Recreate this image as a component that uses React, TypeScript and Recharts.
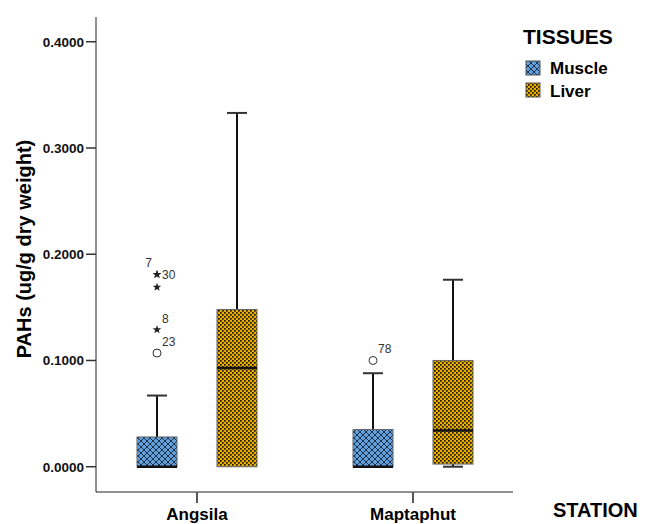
import { ComposedChart, Bar, XAxis, YAxis } from "recharts";

const stations = ["Angsila", "Maptaphut"];

const muscleMin = [0, 0];
const muscleQ1 = [0, 0];
const muscleMedian = [0, 0];
const muscleQ3 = [0.028, 0.035];
const muscleMax = [0.067, 0.088];

const liverMin = [0, 0];
const liverQ1 = [0, 0.0025];
const liverMedian = [0.093, 0.034];
const liverQ3 = [0.148, 0.1];
const liverMax = [0.333, 0.176];

// outliers per station, id = case label shown next to the mark
const muscleOutliers = [
  [
    { value: 0.181, id: "7" },
    { value: 0.181, id: "30" },
    { value: 0.169, id: "" },
    { value: 0.129, id: "8" },
    { value: 0.107, id: "23" },
  ],
  [{ value: 0.1, id: "78" }],
];
const liverOutliers: { value: number; id: string }[][] = [[], []];

const yTicks = [0, 0.1, 0.2, 0.3, 0.4];

const data = stations.map((s, i) => ({
  station: s,
  mBase: muscleQ1[i],
  mBox: muscleQ3[i] - muscleQ1[i],
  lBase: liverQ1[i],
  lBox: liverQ3[i] - liverQ1[i],
}));

const FONT = '"Liberation Sans", Arial, sans-serif';

const labelSpot: Record<string, [number, number, string]> = {
  "7": [-5, -7, "end"],
  "30": [5, 5, "start"],
};

function Star({ cx, cy }: { cx: number; cy: number }) {
  const pts = [];
  for (let k = 0; k < 10; k++) {
    const r = k % 2 === 0 ? 4.5 : 1.9;
    const a = -Math.PI / 2 + (k * Math.PI) / 5;
    pts.push(`${cx + r * Math.cos(a)},${cy + r * Math.sin(a)}`);
  }
  return <polygon points={pts.join(" ")} fill="#222" />;
}

function makeBox(tissue: "muscle" | "liver") {
  return (props: any) => {
    const { x, y, width, height, index } = props;
    const q1 = tissue === "muscle" ? muscleQ1[index] : liverQ1[index];
    const q3 = tissue === "muscle" ? muscleQ3[index] : liverQ3[index];
    const med = tissue === "muscle" ? muscleMedian[index] : liverMedian[index];
    const lo = tissue === "muscle" ? muscleMin[index] : liverMin[index];
    const hi = tissue === "muscle" ? muscleMax[index] : liverMax[index];
    const outs = tissue === "muscle" ? muscleOutliers[index] : liverOutliers[index];
    const ratio = height / (q3 - q1);
    const bottom = y + height;
    const py = (v: number) => bottom - (v - q1) * ratio;
    const cx = x + width / 2;
    const iqr = q3 - q1;
    return (
      <g>
        <line x1={cx} x2={cx} y1={py(q3)} y2={py(hi)} stroke="#111" strokeWidth={2} />
        <line x1={cx - 10} x2={cx + 10} y1={py(hi)} y2={py(hi)} stroke="#333" strokeWidth={2} />
        {lo < q1 && (
          <g>
            <line x1={cx} x2={cx} y1={py(q1)} y2={py(lo)} stroke="#111" strokeWidth={2} />
            <line x1={cx - 10} x2={cx + 10} y1={py(lo)} y2={py(lo)} stroke="#333" strokeWidth={2} />
          </g>
        )}
        <rect
          x={x}
          y={y}
          width={width}
          height={height}
          fill={`url(#pat-${tissue})`}
          stroke="#666"
          strokeWidth={1}
        />
        <line x1={x} x2={x + width} y1={py(med)} y2={py(med)} stroke="#111" strokeWidth={2.5} />
        {outs.map((o, k) => {
          const oy = py(o.value);
          const extreme = o.value > q3 + 3 * iqr;
          const spot = labelSpot[o.id] || [5, -7, "start"];
          return (
            <g key={k}>
              {extreme ? (
                <Star cx={cx} cy={oy} />
              ) : (
                <circle cx={cx} cy={oy} r={4} fill="#fff" stroke="#333" strokeWidth={1} />
              )}
              {o.id && (
                <text
                  x={cx + spot[0]}
                  y={oy + spot[1]}
                  textAnchor={spot[2] as any}
                  fontSize={12}
                  fontFamily={FONT}
                  fill="#333"
                >
                  {o.id}
                </text>
              )}
            </g>
          );
        })}
      </g>
    );
  };
}

function XTick(props: any) {
  const { x, payload } = props;
  return (
    <text x={x} y={520} textAnchor="middle" fontSize={17} fontWeight="bold" fontFamily={FONT} fill="#000">
      {payload.value}
    </text>
  );
}

export default function App() {
  return (
    <div style={{ position: "absolute", left: 0, top: 0, width: 646, height: 524, background: "#fff" }}>
      <ComposedChart
        width={646}
        height={524}
        data={data}
        margin={{ top: 17, right: 133, bottom: 0, left: 0 }}
        barSize={40}
        barGap={40}
      >
        <defs>
          <pattern id="pat-muscle" patternUnits="userSpaceOnUse" width={6} height={6}>
            <rect width={6} height={6} fill="#64a0dc" />
            <path d="M0,0 L6,6 M6,0 L0,6" stroke="#15263b" strokeWidth={0.9} />
          </pattern>
          <pattern id="pat-liver" patternUnits="userSpaceOnUse" width={4} height={4}>
            <rect width={4} height={4} fill="#eaad00" />
            <rect x={0} y={0} width={1.7} height={1.7} fill="#1a1400" />
            <rect x={2} y={2} width={1.7} height={1.7} fill="#1a1400" />
          </pattern>
        </defs>
        <XAxis
          dataKey="station"
          height={32}
          padding={{ left: -7, right: -8 }}
          tickSize={11}
          tick={<XTick />}
          stroke="#222"
          tickLine={{ stroke: "#555", strokeWidth: 2 }}
        />
        <XAxis
          xAxisId="top"
          dataKey="station"
          orientation="top"
          height={0}
          tick={false}
          tickLine={false}
          stroke="#222"
        />
        <YAxis
          type="number"
          domain={[-0.0238, 0.4233]}
          ticks={yTicks}
          allowDataOverflow
          width={96}
          tickSize={10}
          tickMargin={2}
          tickFormatter={(v: number) => v.toFixed(4)}
          tick={{ fontSize: 13.5, fontWeight: "bold", fontFamily: FONT, fill: "#111" }}
          stroke="#222"
          tickLine={{ stroke: "#333", strokeWidth: 1.5 }}
          label={{
            content: () => (
              <text
                transform="translate(31,249) rotate(-90)"
                textAnchor="middle"
                fontSize={20}
                fontWeight="bold"
                fontFamily={FONT}
                fill="#000"
              >
                PAHs (ug/g dry weight)
              </text>
            ),
          }}
        />
        <YAxis
          yAxisId="right"
          orientation="right"
          width={0}
          tick={false}
          tickLine={false}
          domain={[0, 1]}
          stroke="#222"
        />
        <Bar dataKey="mBase" stackId="m" fill="none" isAnimationActive={false} />
        <Bar dataKey="mBox" stackId="m" shape={makeBox("muscle")} isAnimationActive={false} />
        <Bar dataKey="lBase" stackId="l" fill="none" isAnimationActive={false} />
        <Bar dataKey="lBox" stackId="l" shape={makeBox("liver")} isAnimationActive={false} />
      </ComposedChart>
      <svg
        width={646}
        height={524}
        style={{ position: "absolute", left: 0, top: 0, pointerEvents: "none" }}
        fontFamily={FONT}
      >
        <text x={523} y={44} fontSize={21} fontWeight="bold" fill="#000">TISSUES</text>
        <rect x={526} y={61} width={14} height={14} fill="url(#pat-muscle)" stroke="#555" />
        <text x={550} y={74} fontSize={17} fontWeight="bold" fill="#000">Muscle</text>
        <rect x={526} y={83} width={14} height={14} fill="url(#pat-liver)" stroke="#555" />
        <text x={550} y={97} fontSize={17} fontWeight="bold" fill="#000">Liver</text>
        <text x={553} y={517} fontSize={20} fontWeight="bold" fill="#000">STATION</text>
      </svg>
    </div>
  );
}
